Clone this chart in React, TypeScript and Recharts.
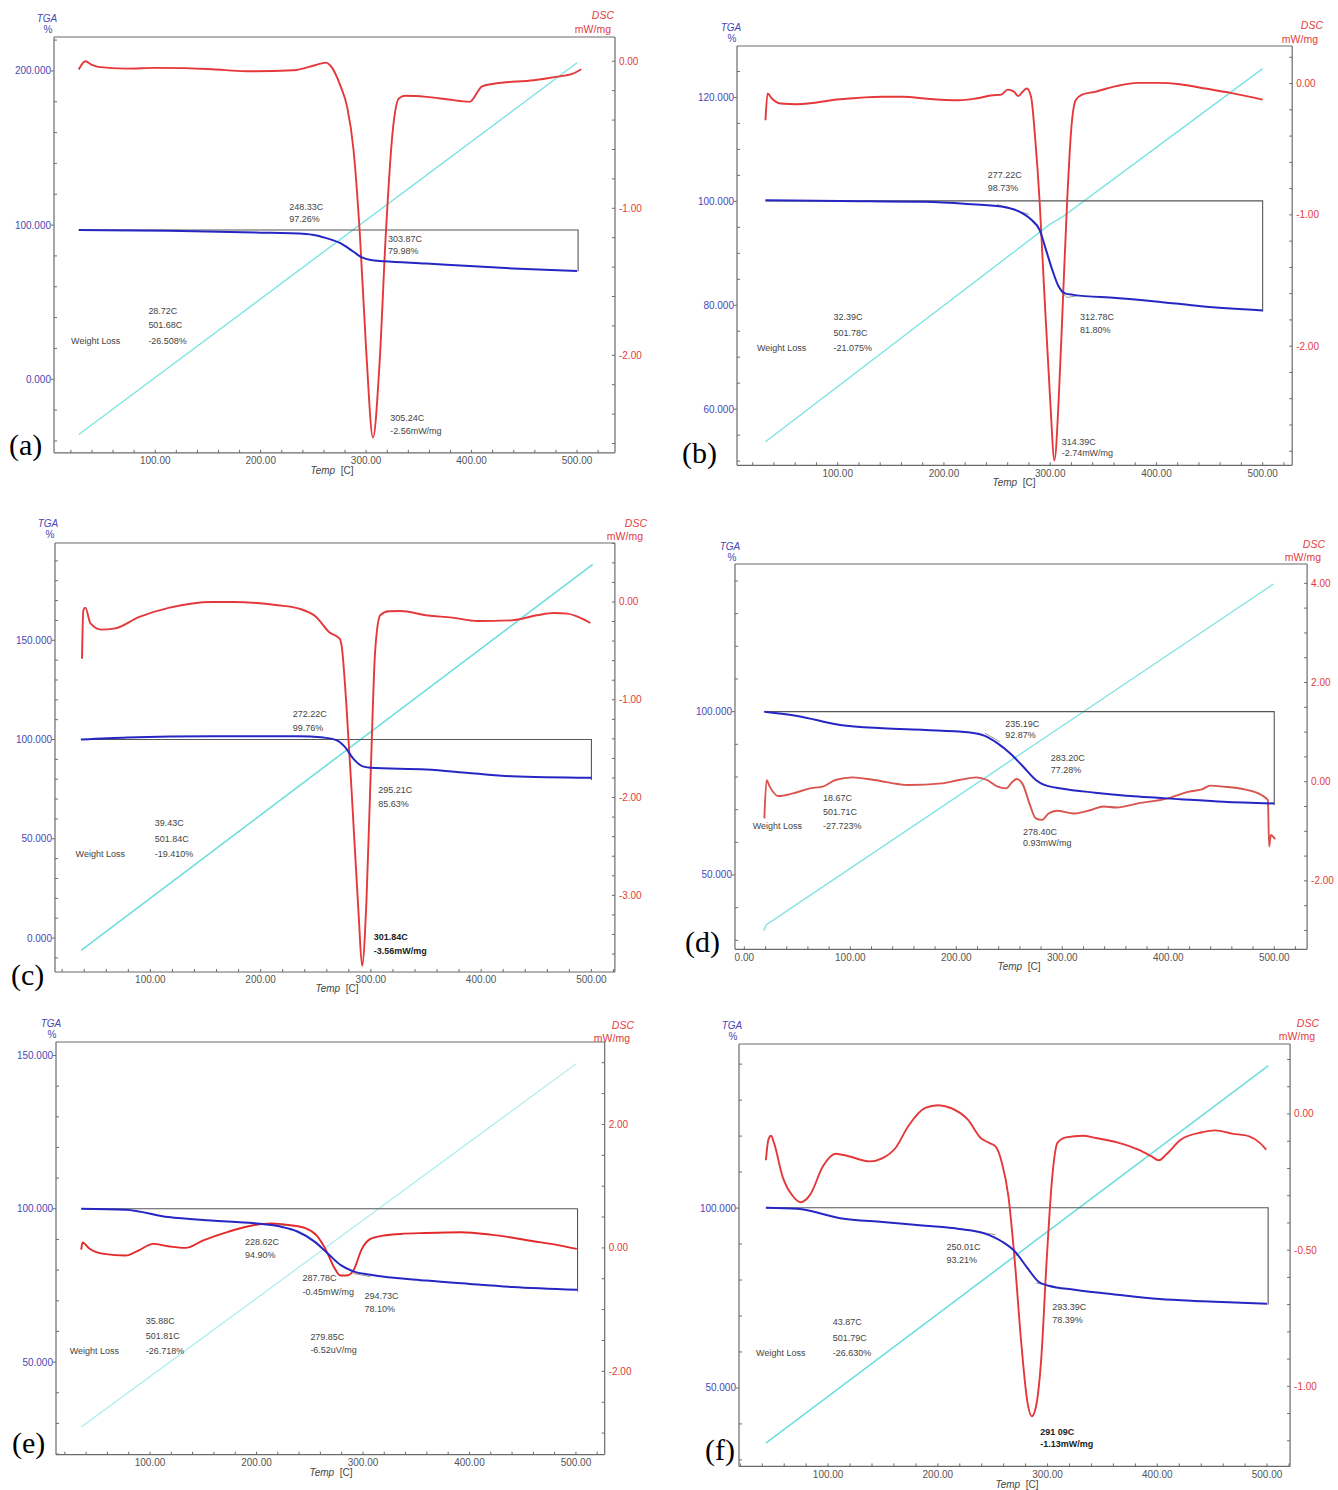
import React from "react";
import { LineChart, Line, XAxis, YAxis, ReferenceLine, ReferenceDot } from "recharts";

type Pt = [number, number];
type Note = [number, number, string, boolean?];

const FONT = '"Liberation Sans", Arial, sans-serif';
const AXIS = "#6b6b6b";
const BLUE_TXT = "#4848b4";
const RED_TXT = "#e23b3b";
const TICK_TXT = "#555";
const NOTE_TXT = "#444";
const TGA_LINE = "#2626c4";
const BOX = "#555";

// ---------- (a)
const dscA: Pt[] = [
  [27.5, -0.056], [33.6, 0.0], [40, -0.025], [45.8, -0.038], [72, -0.05], [101, -0.045],
  [154, -0.054], [186, -0.068], [231, -0.061], [251.5, -0.027], [261.7, -0.009], [265.8, -0.027],
  [276, -0.174], [282, -0.31], [288, -0.6], [294, -1.17], [300, -1.96], [306.5, -2.56],
  [312.6, -2.07], [318.7, -1.17], [325, -0.49], [331, -0.253], [337, -0.235], [357, -0.242],
  [378, -0.26], [398, -0.276], [410, -0.17], [422.6, -0.151], [459, -0.129], [480, -0.106],
  [496, -0.084], [504, -0.054],
];
const tgaA: Pt[] = [
  [27.5, 96.8], [113, 96.3], [194.5, 95.2], [243, 94.2], [260, 92], [276, 88.1], [288, 82.7],
  [296, 79], [304.5, 77.3], [316.7, 76.6], [357, 75.1], [398, 73.4], [439, 71.9], [500, 70.3],
];
const tempA: Pt[] = [[27.5, 4.4], [500, 93.8]];
const boxA: Pt[] = [[27.5, 96.8], [501, 96.8], [501, 70.0]];
const notesA: Note[] = [
  [227.1, 111.9, "248.33C"], [227.1, 103.7, "97.26%"],
  [320.8, 90.7, "303.87C"], [320.8, 83.3, "79.98%"],
  [93.5, 44.4, "28.72C"], [93.5, 35.1, "501.68C"],
  [20.2, 24.7, "Weight Loss"], [93.5, 24.7, "-26.508%"],
  [322.8, -24.9, "305.24C"], [322.8, -33.5, "-2.56mW/mg"],
];

// ---------- (b)
const dscB: Pt[] = [
  [32, -0.279], [34, -0.076], [38, -0.114], [46, -0.152], [62, -0.157], [102, -0.119],
  [142, -0.1], [162, -0.1], [182, -0.114], [214, -0.127], [230, -0.114], [246, -0.089],
  [254, -0.084], [260, -0.046], [266, -0.063], [270, -0.096], [274, -0.063], [278, -0.038],
  [282, -0.1], [286, -0.43], [290, -0.89], [294, -1.52], [300, -2.41], [304, -2.87],
  [308, -2.41], [312, -1.65], [316, -0.89], [320, -0.33], [324, -0.127], [330, -0.084],
  [342, -0.063], [362, -0.02], [382, 0.005], [402, 0.005], [422, -0.005], [446, -0.038],
  [470, -0.071], [500, -0.122],
];
const tgaB: Pt[] = [
  [32, 100.2], [102, 100.06], [182, 99.9], [222, 99.5], [254, 99.0], [270, 98.1], [282, 96.5],
  [290, 94.5], [296, 90.7], [302, 86.8], [308, 83.6], [314, 82.3], [322, 82.0], [362, 81.4],
  [402, 80.7], [442, 79.8], [500, 79.0],
];
const tempB: Pt[] = [[32, 5.6], [300, 57.5], [312, 59.3], [500, 94.6]];
const boxB: Pt[] = [[32, 100.1], [500, 100.1], [500, 78.8]];
const tanB: Pt[][] = [[[250, 99.4], [280, 97.5]], [[310, 82.6], [316, 81.5], [325, 81.8]]];
const notesB: Note[] = [
  [241.2, 105.04, "277.22C"], [241.2, 102.5, "98.73%"],
  [328, 77.8, "312.78C"], [328, 75.2, "81.80%"],
  [96, 77.8, "32.39C"], [96, 74.75, "501.78C"],
  [24, 71.7, "Weight Loss"], [96, 71.7, "-21.075%"],
  [310.8, 53.7, "314.39C"], [310.8, 51.6, "-2.74mW/mg"],
];

// ---------- (c)
const dscC: Pt[] = [
  [38, -0.58], [39.2, -0.085], [41, -0.058], [45.7, -0.22], [55.4, -0.283], [67, -0.273],
  [90, -0.153], [117.4, -0.058], [156, 0.0], [176, 0.0], [215.5, -0.034], [234.9, -0.068],
  [250.4, -0.153], [262, -0.307], [271.7, -0.375], [273.6, -0.46], [277.5, -1.006],
  [283, -2.03], [289, -3.22], [292, -3.72], [296, -3.05], [300, -1.69], [303.9, -0.494],
  [308.5, -0.136], [316, -0.095], [327, -0.092], [350, -0.136], [373.6, -0.16],
  [396.5, -0.194], [427.5, -0.188], [450.8, -0.136], [466, -0.113], [478, -0.119],
  [489.5, -0.16], [499, -0.215],
];
const tgaC: Pt[] = [
  [37, 100.0], [79, 101.0], [156, 101.7], [234, 101.7], [257, 101.0], [268.6, 99.7],
  [276.4, 96.3], [284, 90.4], [292, 86.6], [299.6, 85.8], [350, 84.9], [388.8, 83.2],
  [427.5, 81.5], [500, 80.7],
];
const tempC: Pt[] = [[37.2, 5.05], [501.2, 95.0]];
const boxC: Pt[] = [[37, 100], [500, 100], [500, 79.6]];
const notesC: Note[] = [
  [229.1, 112.7, "272.22C"], [229.1, 106, "99.76%"],
  [306.6, 74.7, "295.21C"], [306.6, 67.7, "85.63%"],
  [103.9, 58, "39.43C"], [103.9, 49.9, "501.84C"],
  [32.2, 42.2, "Weight Loss"], [103.9, 42.2, "-19.410%"],
  [302.7, 0.5, "301.84C", true], [302.7, -6.6, "-3.56mW/mg", true],
];

// ---------- (d)
const dscD: Pt[] = [
  [18.9, -0.74], [21, 0.03], [24, -0.1], [32, -0.29], [46, -0.235], [62, -0.134], [74, -0.1],
  [86, 0.034], [102, 0.087], [122.5, 0.034], [154.6, -0.067], [186.7, -0.034], [202.8, 0.034],
  [218.9, 0.087], [229, 0.034], [239, -0.1], [247, -0.134], [253, 0.0], [257, 0.054],
  [263, -0.067], [269, -0.437], [275, -0.74], [281, -0.77], [287, -0.64], [295, -0.585],
  [311, -0.64], [327, -0.57], [339, -0.5], [351, -0.52], [371.5, -0.437], [399.6, -0.336],
  [419.7, -0.2], [431.7, -0.155], [439.8, -0.08], [451.8, -0.1], [471.9, -0.155],
  [488, -0.27], [494, -0.37], [495.2, -1.31], [496.8, -1.075], [500.8, -1.16],
];
const tgaD: Pt[] = [
  [18.9, 100], [50.2, 98.7], [90.4, 95.9], [130.5, 94.9], [170.7, 94.4], [210.8, 93.7],
  [226.9, 92.6], [239, 90.3], [251, 87.2], [263, 83.2], [275, 79.1], [283, 77.6], [299, 76.5],
  [331, 75.2], [371.5, 74.0], [411.6, 73.2], [451.8, 72.4], [500, 71.9],
];
const tempD: Pt[] = [[18.2, 4.8], [20.5, 6.3], [499.2, 94.8]];
const boxD: Pt[] = [[18.9, 100], [500, 100], [500, 71.4]];
const tanD: Pt[][] = [[[227, 93.4], [241, 90.8]], [[279, 78], [287, 77.3]]];
const notesD: Note[] = [
  [246.2, 96.2, "235.19C"], [246.2, 92.9, "92.87%"],
  [289.2, 85.7, "283.20C"], [289.2, 82.1, "77.28%"],
  [74.3, 73.5, "18.67C"], [74.3, 69.2, "501.71C"],
  [8, 65, "Weight Loss"], [74.3, 65, "-27.723%"],
  [263, 63.3, "278.40C"], [263, 59.7, "0.93mW/mg"],
];

// ---------- (e)
const dscE: Pt[] = [
  [35.4, -0.027], [36.6, 0.09], [42.7, -0.005], [56.8, -0.097], [77, -0.124], [89, -0.043],
  [103, 0.065], [117, 0.027], [133.5, 0.0], [149.5, 0.118], [173.9, 0.264], [198, 0.371],
  [214, 0.398], [230, 0.371], [246.4, 0.318], [256.6, 0.2], [264.7, -0.016], [272.8, -0.312],
  [278.8, -0.447], [284.9, -0.447], [291, -0.366], [299, -0.016], [307, 0.145], [319, 0.199],
  [335, 0.226], [359.5, 0.242], [391.7, 0.253], [420, 0.215], [460, 0.108], [480.6, 0.054],
  [500.8, -0.016],
];
const tgaE: Pt[] = [
  [35.4, 100], [77, 99.7], [117.4, 97.3], [157.7, 96.2], [198, 95.3], [222.3, 94.2],
  [238.4, 92.6], [254.5, 89.3], [266.7, 85.5], [278.8, 81.7], [291, 79.6], [307, 78.5],
  [359.5, 76.6], [400, 75.5], [440.4, 74.5], [501, 73.6],
];
const tempE: Pt[] = [[35.4, 6.7], [500, 94.7]];
const boxE: Pt[] = [[35.4, 100], [501.5, 100], [501.5, 73.0]];
const tanE: Pt[][] = [[[198, 95.3], [230, 94.5]], [[291, 78.9], [307, 77.9]]];
const notesE: Note[] = [
  [189.2, 89.1, "228.62C"], [189.2, 85, "94.90%"],
  [243.3, 77.3, "287.78C"], [243.3, 73, "-0.45mW/mg"],
  [301.4, 71.4, "294.73C"], [301.4, 67.3, "78.10%"],
  [96, 63.3, "35.88C"], [96, 58.4, "501.81C"],
  [24.5, 53.5, "Weight Loss"], [96, 53.5, "-26.718%"],
  [250.6, 58.2, "279.85C"], [250.6, 54, "-6.52uV/mg"],
];

// ---------- (f)
const dscF: Pt[] = [
  [43.3, -0.17], [45.6, -0.094], [48, -0.08], [50.7, -0.106], [58.4, -0.229], [68, -0.302],
  [75, -0.324], [83.7, -0.296], [95.3, -0.192], [107, -0.146], [118.6, -0.155], [138, -0.174],
  [149.7, -0.162], [161.4, -0.125], [173, -0.045], [188.5, 0.022], [200.2, 0.032],
  [211.8, 0.022], [227.4, -0.021], [239, -0.088], [246.8, -0.106], [252.6, -0.119],
  [258.4, -0.18], [264.3, -0.302], [270, -0.535], [276, -0.84], [281.7, -1.06], [285.6, -1.11],
  [289.5, -1.073], [294.2, -0.9], [299.2, -0.535], [304.3, -0.229], [309, -0.106],
  [316.7, -0.086], [332.3, -0.08], [343.9, -0.088], [363.3, -0.104], [382.7, -0.131],
  [394.4, -0.155], [401.4, -0.17], [408, -0.149], [421.6, -0.094], [441, -0.067],
  [452.6, -0.06], [468, -0.072], [483.7, -0.082], [493.4, -0.106], [499.2, -0.131],
];
const tgaF: Pt[] = [
  [43.3, 100.1], [72, 99.8], [111, 97.2], [149.7, 96.1], [188.5, 95.1], [219.6, 94.2],
  [242.9, 92.9], [258.4, 90.7], [270, 88.0], [281.7, 83.3], [291.5, 79.6], [301.2, 78.4],
  [324.5, 77.3], [363.3, 75.9], [402, 74.7], [441, 74.1], [500, 73.4],
];
const tempF: Pt[] = [[43.3, 5.5], [501.2, 94.9]];
const boxF: Pt[] = [[43.3, 100.1], [501, 100.1], [501, 73.1]];
const tanF: Pt[][] = [[[235, 93.5], [252.6, 92.6]], [[289.5, 79.2], [301, 78.4]]];
const notesF: Note[] = [
  [208, 89.2, "250.01C"], [208, 85.6, "93.21%"],
  [304.3, 72.4, "293.39C"], [304.3, 68.8, "78.39%"],
  [104.3, 68.3, "43.87C"], [104.3, 63.9, "501.79C"],
  [34.4, 59.7, "Weight Loss"], [104.3, 59.7, "-26.630%"],
  [293.4, 37.7, "291 09C", true], [293.4, 34.3, "-1.13mW/mg", true],
];

// tick labels
const xLabels = [100, 200, 300, 400, 500];
const xLabelsD = [0, 100, 200, 300, 400, 500];
const tgaLabelsA = [0, 100, 200];
const tgaLabelsB = [60, 80, 100, 120];
const tgaLabelsC = [0, 50, 100, 150];
const tgaLabelsD = [50, 100];
const tgaLabelsE = [50, 100, 150];
const tgaLabelsF = [50, 100];
const dscLabelsA = [0, -1, -2];
const dscLabelsC = [0, -1, -2, -3];
const dscLabelsD = [-2, 0, 2, 4];
const dscLabelsE = [-2, 0, 2];
const dscLabelsF = [-1, -0.5, 0];

const steps = (a: number, b: number, s: number) => {
  const out: number[] = [];
  const n = Math.round((b - a) / s);
  for (let i = 0; i <= n; i++) out.push(+(a + i * s).toFixed(4));
  return out;
};
const near = (arr: number[], v: number) => arr.some((m) => Math.abs(m - v) < 1e-6);
const rows = (pts: Pt[]) => pts.map(([t, v]) => ({ t, v }));

const panels = [
  {
    tag: "(a)", frame: { l: 54, t: 36.7, r: 615, b: 452.5 },
    xDomain: [4, 536], tgaDomain: [-47.7, 222], dscDomain: [-2.663, 0.165],
    xTicks: steps(20, 520, 20), xMajor: xLabels,
    tgaTicks: steps(-40, 220, 20), tgaMajor: tgaLabelsA,
    dscTicks: steps(-2.6, 0, 0.2), dscMajor: dscLabelsA,
    dsc: dscA, tga: tgaA, temp: tempA, box: boxA, tangents: [] as Pt[][], notes: notesA,
    red: "#e5383b", cyan: "#7fe2e2", cyanW: 1.4,
    txt: { tga: [47, 19], pct: [48, 30], dsc: [614, 15], mw: [611, 29], tag: [9, 445], temp: [332, 471] },
  },
  {
    tag: "(b)", frame: { l: 737.3, t: 45.7, r: 1292.5, b: 465 },
    xDomain: [5.2, 527.8], tgaDomain: [49.2, 129.9], dscDomain: [-2.907, 0.286],
    xTicks: steps(20, 520, 20), xMajor: xLabels,
    tgaTicks: steps(50, 125, 5), tgaMajor: tgaLabelsB,
    dscTicks: steps(-2.8, 0.2, 0.2), dscMajor: dscLabelsA,
    dsc: dscB, tga: tgaB, temp: tempB, box: boxB, tangents: tanB, notes: notesB,
    red: "#e5383b", cyan: "#7fe2e2", cyanW: 1.4,
    txt: { tga: [731, 28], pct: [732, 39], dsc: [1323, 25], mw: [1318, 39], tag: [682, 453], temp: [1014, 483] },
  },
  {
    tag: "(c)", frame: { l: 54.6, t: 542.7, r: 614.5, b: 971.7 },
    xDomain: [13.5, 521.3], tgaDomain: [-17.1, 199], dscDomain: [-3.784, 0.603],
    xTicks: steps(20, 520, 20), xMajor: xLabels,
    tgaTicks: steps(-10, 190, 10), tgaMajor: tgaLabelsC,
    dscTicks: steps(-3.6, 0.6, 0.2), dscMajor: dscLabelsC,
    dsc: dscC, tga: tgaC, temp: tempC, box: boxC, tangents: [] as Pt[][], notes: notesC,
    red: "#e5383b", cyan: "#6fdede", cyanW: 1.6,
    txt: { tga: [48, 524], pct: [50, 535], dsc: [647, 523], mw: [643, 536], tag: [11, 975], temp: [337, 989] },
  },
  {
    tag: "(d)", frame: { l: 734.7, t: 564, r: 1306.8, b: 949.3 },
    xDomain: [-8.8, 531], tgaDomain: [27.25, 145.2], dscDomain: [-3.38, 4.39],
    xTicks: steps(0, 520, 20), xMajor: xLabelsD,
    tgaTicks: steps(30, 140, 10), tgaMajor: tgaLabelsD,
    dscTicks: steps(-3, 4, 0.5), dscMajor: dscLabelsD,
    dsc: dscD, tga: tgaD, temp: tempD, box: boxD, tangents: tanD, notes: notesD,
    red: "#d9534f", cyan: "#7fe2e2", cyanW: 1.4,
    txt: { tga: [730, 547], pct: [732, 558], dsc: [1325, 544], mw: [1321, 557], tag: [685, 942], temp: [1019, 967] },
  },
  {
    tag: "(e)", frame: { l: 56, t: 1042.3, r: 604.7, b: 1455 },
    xDomain: [11.7, 527], tgaDomain: [19.8, 154.4], dscDomain: [-3.35, 3.336],
    xTicks: steps(20, 520, 20), xMajor: xLabels,
    tgaTicks: steps(20, 150, 10), tgaMajor: tgaLabelsE,
    dscTicks: steps(-3, 3, 0.5), dscMajor: dscLabelsE,
    dsc: dscE, tga: tgaE, temp: tempE, box: boxE, tangents: tanE, notes: notesE,
    red: "#e32a2a", cyan: "#a9ecec", cyanW: 1.2,
    txt: { tga: [51, 1024], pct: [52, 1035], dsc: [634, 1025], mw: [630, 1038], tag: [12, 1443], temp: [331, 1473] },
  },
  {
    tag: "(f)", frame: { l: 738.9, t: 1044.3, r: 1290, b: 1466.7 },
    xDomain: [18.8, 521], tgaDomain: [28.2, 145.6], dscDomain: [-1.294, 0.257],
    xTicks: steps(20, 520, 20), xMajor: xLabels,
    tgaTicks: steps(30, 140, 10), tgaMajor: tgaLabelsF,
    dscTicks: steps(-1.2, 0.2, 0.1), dscMajor: dscLabelsF,
    dsc: dscF, tga: tgaF, temp: tempF, box: boxF, tangents: tanF, notes: notesF,
    red: "#e5383b", cyan: "#6fdede", cyanW: 1.6,
    txt: { tga: [732, 1026], pct: [733, 1037], dsc: [1319, 1023], mw: [1315, 1036], tag: [705, 1450], temp: [1017, 1485] },
  },
];

type Cfg = (typeof panels)[number];

function Txt({
  x, y, align = "center", size = 10, color = "#333", italic = false, family = FONT, children,
}: {
  x: number; y: number; align?: "left" | "center" | "right"; size?: number; color?: string;
  italic?: boolean; family?: string; children: React.ReactNode;
}) {
  const tx = align === "center" ? "-50%" : align === "right" ? "-100%" : "0";
  return (
    <div
      style={{
        position: "absolute", left: x, top: y, transform: `translate(${tx}, -50%)`,
        fontSize: size, color, fontStyle: italic ? "italic" : "normal", fontFamily: family,
        whiteSpace: "nowrap", lineHeight: 1,
      }}
    >
      {children}
    </div>
  );
}

const xTick = (majors: number[]) => (p: any) => {
  const v = p.payload.value;
  const major = near(majors, v);
  return (
    <g>
      <line x1={p.x} x2={p.x} y1={p.y} y2={p.y - 3} stroke={AXIS} strokeWidth={1} />
      {major && (
        <text x={p.x} y={p.y + 8} textAnchor="middle" dominantBaseline="central"
          fontSize={10} fill={TICK_TXT} fontFamily={FONT}>
          {v.toFixed(2)}
        </text>
      )}
    </g>
  );
};

const tgaTick = (majors: number[]) => (p: any) => {
  const v = p.payload.value;
  const major = near(majors, v);
  return (
    <g>
      <line x1={p.x} x2={major ? p.x - 3 : p.x + 3} y1={p.y} y2={p.y} stroke={AXIS} strokeWidth={1} />
      {major && (
        <text x={p.x - 3} y={p.y} textAnchor="end" dominantBaseline="central"
          fontSize={10} fill={BLUE_TXT} fontFamily={FONT}>
          {v.toFixed(3)}
        </text>
      )}
    </g>
  );
};

const dscTick = (majors: number[]) => (p: any) => {
  const v = p.payload.value;
  const major = near(majors, v);
  return (
    <g>
      <line x1={p.x} x2={p.x - 3} y1={p.y} y2={p.y} stroke={AXIS} strokeWidth={1} />
      {major && (
        <text x={p.x + 4} y={p.y} textAnchor="start" dominantBaseline="central"
          fontSize={10} fill={RED_TXT} fontFamily={FONT}>
          {v.toFixed(2)}
        </text>
      )}
    </g>
  );
};

const PAD_L = 60;
const PAD_T = 40;
const PAD_R = 55;
const PAD_B = 50;

function Panel({ cfg }: { cfg: Cfg }) {
  const { frame } = cfg;
  const w = frame.r - frame.l + PAD_L + PAD_R;
  const h = frame.b - frame.t + PAD_T + PAD_B;
  const axisLine = { stroke: AXIS, strokeWidth: 1.2 };
  return (
    <div style={{ position: "absolute", left: frame.l - PAD_L, top: frame.t - PAD_T }}>
      <LineChart width={w} height={h} margin={{ top: PAD_T, right: 0, bottom: 0, left: 0 }}>
        <XAxis
          type="number" dataKey="t" domain={cfg.xDomain} allowDataOverflow
          ticks={cfg.xTicks} interval={0} tickSize={0} tickMargin={0} height={PAD_B}
          axisLine={axisLine} tickLine={false} tick={xTick(cfg.xMajor)}
        />
        <YAxis
          yAxisId="tga" orientation="left" width={PAD_L} domain={cfg.tgaDomain} allowDataOverflow
          ticks={cfg.tgaTicks} interval={0} tickSize={0} tickMargin={0}
          axisLine={axisLine} tickLine={false} tick={tgaTick(cfg.tgaMajor)}
        />
        <YAxis
          yAxisId="dsc" orientation="right" width={PAD_R} domain={cfg.dscDomain} allowDataOverflow
          ticks={cfg.dscTicks} interval={0} tickSize={0} tickMargin={0}
          axisLine={axisLine} tickLine={false} tick={dscTick(cfg.dscMajor)}
        />
        <YAxis yAxisId="tmp" hide domain={[0, 100]} allowDataOverflow />
        <ReferenceLine yAxisId="tga" y={cfg.tgaDomain[1]} stroke={AXIS} strokeWidth={1.2} />

        <Line
          yAxisId="tmp" data={rows(cfg.temp)} dataKey="v" type="linear" stroke={cfg.cyan}
          strokeWidth={cfg.cyanW} dot={false} activeDot={false} isAnimationActive={false}
        />
        <Line
          yAxisId="tga" data={rows(cfg.box)} dataKey="v" type="linear" stroke={BOX}
          strokeWidth={1.1} dot={false} activeDot={false} isAnimationActive={false}
        />
        {cfg.tangents.map((seg, i) => (
          <Line
            key={`tan${i}`} yAxisId="tga" data={rows(seg)} dataKey="v" type="linear" stroke="#8a8a8a"
            strokeWidth={0.9} dot={false} activeDot={false} isAnimationActive={false}
          />
        ))}
        <Line
          yAxisId="dsc" data={rows(cfg.dsc)} dataKey="v" type="monotone" stroke={cfg.red}
          strokeWidth={1.9} dot={false} activeDot={false} isAnimationActive={false}
        />
        <Line
          yAxisId="tga" data={rows(cfg.tga)} dataKey="v" type="monotone" stroke={TGA_LINE}
          strokeWidth={2} dot={false} activeDot={false} isAnimationActive={false}
        />
        {cfg.notes.map(([t, v, s, bold], i) => (
          <ReferenceDot
            key={`n${i}`} x={t} y={v} yAxisId="tga" r={0} ifOverflow="visible"
            shape={(p: any) => (
              <text
                x={p.cx} y={p.cy} dominantBaseline="central" fontSize={9} fontFamily={FONT}
                fill={bold ? "#222" : NOTE_TXT} fontWeight={bold ? 700 : 400}
              >
                {s}
              </text>
            )}
          />
        ))}
      </LineChart>
    </div>
  );
}

function Labels({ cfg }: { cfg: Cfg }) {
  const t = cfg.txt;
  return (
    <>
      <Txt x={t.tga[0]} y={t.tga[1]} italic color={BLUE_TXT}>TGA</Txt>
      <Txt x={t.pct[0]} y={t.pct[1]} color={BLUE_TXT}>%</Txt>
      <Txt x={t.dsc[0]} y={t.dsc[1]} align="right" italic color={RED_TXT} size={10.5}>DSC</Txt>
      <Txt x={t.mw[0]} y={t.mw[1]} align="right" color={RED_TXT} size={10.5}>mW/mg</Txt>
      <Txt x={t.tag[0]} y={t.tag[1]} align="left" size={30} color="#000" family='"Liberation Serif", "Times New Roman", serif'>
        {cfg.tag}
      </Txt>
      <Txt x={t.temp[0]} y={t.temp[1]} color="#444">
        <span style={{ fontStyle: "italic" }}>Temp</span>&nbsp;&nbsp;[C]
      </Txt>
    </>
  );
}

export default function App() {
  return (
    <div
      style={{
        position: "absolute", left: 0, top: 0, width: 1338, height: 1490,
        background: "#fff", fontFamily: FONT, overflow: "hidden",
      }}
    >
      {panels.map((cfg) => (
        <React.Fragment key={cfg.tag}>
          <Panel cfg={cfg} />
          <Labels cfg={cfg} />
        </React.Fragment>
      ))}
    </div>
  );
}
